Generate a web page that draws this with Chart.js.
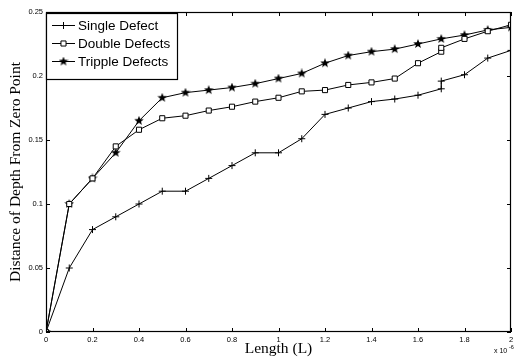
<!DOCTYPE html>
<html>
<head>
<meta charset="utf-8">
<script src="https://cdn.jsdelivr.net/npm/chart.js@4/dist/chart.umd.min.js"></script>
<style>
  html, body { margin: 0; padding: 0; background: #fff; }
  #wrap { width: 517px; height: 361px; position: relative; }
</style>
</head>
<body>
<div id="wrap"><canvas id="c"></canvas></div>
<script>
// values (length in units of 1e-6)
const xSingle = [0, 0.1, 0.2, 0.3, 0.4, 0.5, 0.6, 0.7, 0.8, 0.9, 1.0, 1.1, 1.2, 1.3, 1.4, 1.5, 1.6, 1.7, 1.7, 1.8, 1.9, 2.0];
const single  = [0, 0.05, 0.08, 0.09, 0.10, 0.11, 0.11, 0.12, 0.13, 0.14, 0.14, 0.151, 0.170, 0.175, 0.180, 0.182, 0.185, 0.190, 0.196, 0.201, 0.214, 0.220];

const xDouble = [0, 0.1, 0.2, 0.3, 0.4, 0.5, 0.6, 0.7, 0.8, 0.9, 1.0, 1.1, 1.2, 1.3, 1.4, 1.5, 1.6, 1.7, 1.7, 1.8, 1.9, 2.0];
const double  = [0, 0.10, 0.12, 0.145, 0.158, 0.167, 0.169, 0.173, 0.176, 0.180, 0.183, 0.188, 0.189, 0.193, 0.195, 0.198, 0.210, 0.219, 0.222, 0.229, 0.235, 0.240];

const xTriple = [0, 0.1, 0.2, 0.3, 0.4, 0.5, 0.6, 0.7, 0.8, 0.9, 1.0, 1.1, 1.2, 1.3, 1.4, 1.5, 1.6, 1.7, 1.8, 1.9, 2.0];
const triple  = [0, 0.10, 0.12, 0.140, 0.165, 0.183, 0.187, 0.189, 0.191, 0.194, 0.198, 0.202, 0.210, 0.216, 0.219, 0.221, 0.225, 0.229, 0.232, 0.236, 0.238];

const seriesNames = ["Single Defect", "Double Defects", "Tripple Defects"];
const xTicks = ["0", "0.2", "0.4", "0.6", "0.8", "1", "1.2", "1.4", "1.6", "1.8", "2"];
const yTicks = ["0", "0.05", "0.1", "0.15", "0.2", "0.25"];

// filled five point star marker
function makeStar(size){
  const c = document.createElement("canvas");
  c.width = size; c.height = size;
  const g = c.getContext("2d");
  const cx = size / 2, cy = size / 2, R = size / 2, r = R * 0.42;
  g.beginPath();
  for (let i = 0; i < 10; i++){
    const rad = i % 2 ? r : R;
    const a = -Math.PI / 2 + i * Math.PI / 5;
    g.lineTo(cx + rad * Math.cos(a), cy + rad * Math.sin(a));
  }
  g.closePath();
  g.fillStyle = "#000";
  g.fill();
  return c;
}
const star = makeStar(10);

const pts = (xs, ys) => xs.map((x, i) => ({ x, y: ys[i] }));

const common = {
  borderColor: "#000",
  borderWidth: 1,
  tension: 0,
  fill: false,
  pointBorderColor: "#000",
  pointBorderWidth: 1
};

const datasets = [
  Object.assign({}, common, { label: seriesNames[0], data: pts(xSingle, single),
    pointStyle: "cross", pointRadius: 3.5, pointBackgroundColor: "#000" }),
  Object.assign({}, common, { label: seriesNames[1], data: pts(xDouble, double),
    pointStyle: "rect", pointRadius: 3.6, pointBackgroundColor: "#fff" }),
  Object.assign({}, common, { label: seriesNames[2], data: pts(xTriple, triple),
    pointStyle: star, pointRadius: 5, pointBackgroundColor: "#000" })
];

// box, inward ticks, legend and exponent label
const matlabish = {
  id: "matlabish",
  afterDraw(chart){
    const { ctx, chartArea: a, scales } = chart;
    ctx.save();
    ctx.strokeStyle = "#000";
    ctx.lineWidth = 1.2;
    ctx.strokeRect(a.left + 0.5, a.top + 0.5, a.right - a.left - 1, a.bottom - a.top - 1);

    ctx.lineWidth = 1;
    const tl = 4;
    scales.x.ticks.forEach(t => {
      const px = Math.round(scales.x.getPixelForValue(t.value)) + 0.5;
      ctx.beginPath();
      ctx.moveTo(px, a.bottom); ctx.lineTo(px, a.bottom - tl);
      ctx.moveTo(px, a.top); ctx.lineTo(px, a.top + tl);
      ctx.stroke();
    });
    scales.y.ticks.forEach(t => {
      const py = Math.round(scales.y.getPixelForValue(t.value)) + 0.5;
      ctx.beginPath();
      ctx.moveTo(a.left, py); ctx.lineTo(a.left + tl, py);
      ctx.moveTo(a.right, py); ctx.lineTo(a.right - tl, py);
      ctx.stroke();
    });

    // legend
    const lx = a.left, ly = a.top + 1, lw = 131, lh = 66;
    ctx.fillStyle = "#fff";
    ctx.fillRect(lx, ly, lw, lh);
    ctx.lineWidth = 1.2;
    ctx.strokeRect(lx + 0.5, ly + 0.5, lw, lh);
    ctx.font = "13.5px 'Liberation Sans', Arial, sans-serif";
    ctx.textBaseline = "middle";
    chart.data.datasets.forEach((ds, i) => {
      const y = ly + 12.5 + i * 18;
      ctx.lineWidth = 1;
      ctx.strokeStyle = "#000";
      ctx.beginPath();
      ctx.moveTo(lx + 6, y); ctx.lineTo(lx + 29, y);
      ctx.stroke();
      ctx.fillStyle = ds.pointBackgroundColor;
      Chart.helpers.drawPoint(ctx, {
        pointStyle: ds.pointStyle, radius: ds.pointRadius, rotation: 0,
        borderWidth: 1
      }, lx + 17.5, y);
      ctx.fillStyle = "#000";
      ctx.fillText(ds.label, lx + 32, y + 0.5);
    });

    // exponent
    ctx.font = "7px 'Liberation Sans', Arial, sans-serif";
    ctx.textBaseline = "alphabetic";
    ctx.fillText("x 10", 494, 353);
    ctx.font = "5.5px 'Liberation Sans', Arial, sans-serif";
    ctx.fillText("-6", 509, 349);
    ctx.restore();
  }
};

const tickFont = { family: "'Liberation Sans', Arial, sans-serif", size: 7.5 };
const titleFont = { family: "'Liberation Serif', 'Times New Roman', serif", size: 15.5 };

new Chart(document.getElementById("c"), {
  type: "line",
  data: { datasets },
  plugins: [matlabish],
  options: {
    responsive: true,
    maintainAspectRatio: false,
    animation: false,
    layout: { padding: { top: 12, right: 1, left: 0, bottom: 0 } },
    plugins: { legend: { display: false }, tooltip: { enabled: false } },
    elements: { point: { hoverRadius: 4 } },
    scales: {
      x: {
        type: "linear", min: 0, max: 2,
        afterFit(s){ s.height = 29; },
        afterBuildTicks(s){ s.ticks = xTicks.map((_, i) => ({ value: i * 0.2 })); },
        grid: { display: false, drawTicks: false },
        border: { display: false },
        ticks: { color: "#000", font: tickFont, padding: 3, maxRotation: 0,
          callback: (v, i) => xTicks[i] },
        title: { display: true, text: "Length (L)", color: "#000", font: titleFont, padding: { top: 0, bottom: 3 } }
      },
      y: {
        min: 0, max: 0.25,
        afterFit(s){ s.width = 46; },
        afterBuildTicks(s){ s.ticks = yTicks.map((_, i) => ({ value: i * 0.05 })); },
        grid: { display: false, drawTicks: false },
        border: { display: false },
        ticks: { color: "#000", font: tickFont, padding: 3,
          callback: (v, i) => yTicks[i] },
        title: { display: true, text: "Distance of Depth From Zero Point", color: "#000", font: titleFont, padding: { top: 7, bottom: 0 } }
      }
    }
  }
});
</script>
</body>
</html>
